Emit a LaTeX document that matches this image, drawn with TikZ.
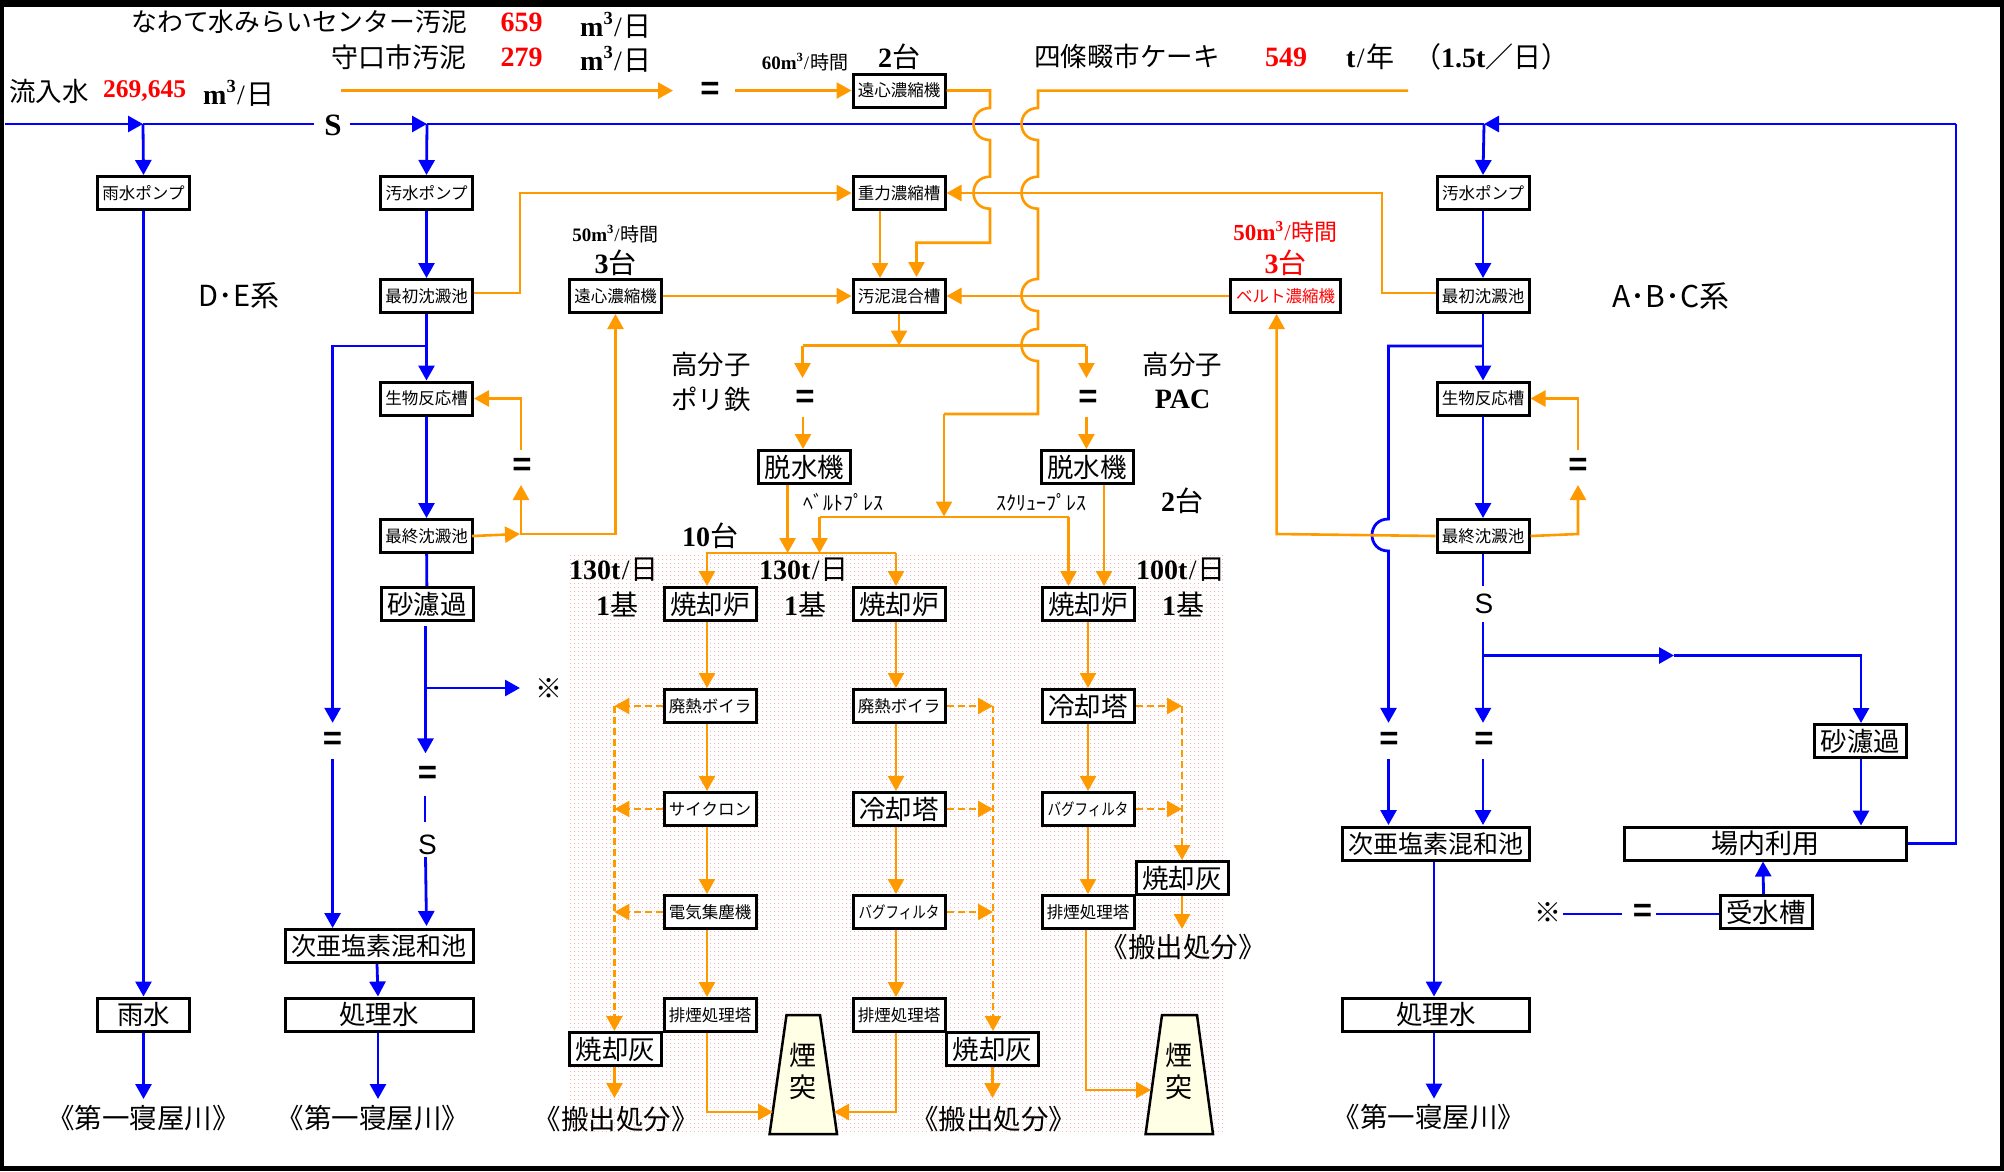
\documentclass[tikz,border=0pt]{standalone}
\usepackage{fontspec}
\usetikzlibrary{arrows.meta}
\setmainfont{Noto Sans CJK JP}
\newfontfamily\ser{Liberation Serif}
\newfontfamily\san{Liberation Sans}
\newcommand\fs[1]{\fontsize{#1pt}{#1pt}\selectfont}
\newcommand\sn[1]{{\ser\bfseries #1}}
\newcommand\slsh{{\ser\kern.05em/\kern.05em}}
\newcommand\cub{{\ser\bfseries m\raisebox{.42em}{\scalebox{.66}{3}}\mdseries\slsh}}
\newcommand\hop[2]{-- (#1,#2-16) .. controls (#1-22,#2-16) and (#1-22,#2+16) .. (#1,#2+16)}
\newcommand\eqsign{\raisebox{-3.5pt}{=}}
\definecolor{og}{HTML}{FF9900}
\definecolor{bl}{HTML}{0000FF}
\definecolor{rd}{HTML}{FF0000}
\definecolor{chim}{HTML}{FFFFE5}
\definecolor{dotc}{HTML}{FFB4B4}
\tikzset{
  box/.style={draw=black,line width=3pt,fill=white,inner sep=0pt,minimum width=92pt,minimum height=33pt,text=black,align=center},
  sm/.style={box,font=\fs{16.5}},
  lg/.style={box,font=\fs{26.5}},
  txt/.style={inner sep=0pt,text=black,font=\fs{26.5}},
  eqs/.style={inner sep=0pt,font={\san\bfseries\fs{33}},minimum height=36pt},
  sss/.style={inner sep=0pt,font={\san\fs{28}}},
  ol/.style={draw=og,line width=2.6pt,line join=miter},
  oa/.style={ol,-{Triangle[length=15pt,width=16pt]}},
  od/.style={ol,dash pattern=on 7pt off 4pt},
  oda/.style={od,-{Triangle[length=15pt,width=16pt]}},
  bll/.style={draw=bl,line width=2.8pt},
  ba/.style={bll,-{Triangle[length=15pt,width=16pt]}},
}
\begin{document}
\begin{tikzpicture}[x=1pt,y=-1pt]
\useasboundingbox (0,0) rectangle (2004,1171);
\fill[black] (0,0) rectangle (2004,1171);
\fill[white] (4,7) rectangle (2000,1166);
% dotted background
\foreach \yy in {555.5,559.5,...,1134}
  \draw[dotc,line width=1pt,dash pattern=on 1pt off 3pt] (570,\yy) -- (1226,\yy);

% ---------- nodes
\node[sm] (rp) at (143.5,193) {雨水ポンプ};
\node[sm] (pL) at (426.5,193) {汚水ポンプ};
\node[sm] (fL) at (426.5,296) {最初沈澱池};
\node[sm] (bL) at (426.5,398.5) {生物反応槽};
\node[sm] (eL) at (426.5,536) {最終沈澱池};
\node[lg] (sandL) at (427,604) {砂濾過};
\node[box,font=\fs{25},minimum width=188pt] (hypoL) at (379,946) {次亜塩素混和池};
\node[lg,minimum width=188pt] (treatL) at (379,1014.5) {処理水};
\node[lg] (rain) at (143.5,1014.5) {雨水};
\node[sm] (cen2) at (899,90.5) {遠心濃縮機};
\node[sm] (grav) at (899,193) {重力濃縮槽};
\node[sm] (mix) at (899,296) {汚泥混合槽};
\node[sm] (cen3) at (615.5,296) {遠心濃縮機};
\node[sm,minimum width=110pt,text=rd] (belt) at (1285.5,296) {ベルト濃縮機};
\node[lg] (dL) at (804.5,467) {脱水機};
\node[lg] (dR) at (1087,467) {脱水機};
\node[sm] (pR) at (1483,193) {汚水ポンプ};
\node[sm] (fR) at (1483,296) {最初沈澱池};
\node[sm] (bR) at (1483,398.5) {生物反応槽};
\node[sm] (eR) at (1483,536) {最終沈澱池};
\node[box,font=\fs{25},minimum width=187pt] (hypoR) at (1436,843.5) {次亜塩素混和池};
\node[lg,minimum width=187pt] (treatR) at (1436,1014.5) {処理水};
\node[lg] (sandR) at (1860.5,741) {砂濾過};
\node[box,font=\fs{27},minimum width=282pt] (inner) at (1765.5,843.5) {場内利用};
\node[lg] (tank) at (1766,912) {受水槽};
% furnace columns
\node[lg] (fur1) at (710,604) {焼却炉};
\node[lg] (fur2) at (899,604) {焼却炉};
\node[lg] (fur3) at (1088,604) {焼却炉};
\node[sm] (boil1) at (710,706) {廃熱ボイラ};
\node[sm] (boil2) at (899,706) {廃熱ボイラ};
\node[lg] (cool3) at (1088,706) {冷却塔};
\node[sm] (cyc1) at (710,809) {サイクロン};
\node[lg] (cool2) at (899,809) {冷却塔};
\node[sm] (bag3) at (1088,809) {\scalebox{.82}[1]{バグフィルタ}};
\node[sm] (esp1) at (710,912) {電気集塵機};
\node[sm] (bag2) at (899,912) {\scalebox{.82}[1]{バグフィルタ}};
\node[sm] (stk3) at (1088,912) {排煙処理塔};
\node[sm] (stk1) at (710,1015) {排煙処理塔};
\node[sm] (stk2) at (899,1015) {排煙処理塔};
\node[lg] (ash1) at (615.5,1049) {焼却灰};
\node[lg] (ash2) at (992.5,1049) {焼却灰};
\node[lg] (ash3) at (1182,878) {焼却灰};
% chimneys
\draw[black,line width=2.5pt,fill=chim] (786.5,1015) -- (820,1015) -- (837,1134) -- (769.6,1134) -- cycle;
\draw[black,line width=2.5pt,fill=chim] (1162,1015) -- (1197,1015) -- (1213,1134) -- (1145.6,1134) -- cycle;
\node[txt,font=\fs{27},align=center] (ch1a) at (803,1055) {煙};
\node[txt,font=\fs{27}] (ch1b) at (803,1087) {突};
\node[txt,font=\fs{27}] (ch2a) at (1179,1055) {煙};
\node[txt,font=\fs{27}] (ch2b) at (1179,1087) {突};
\coordinate (chL1) at (773,1112);
\coordinate (chR1) at (834,1112);
\coordinate (chL2) at (1151,1090);

% equals and S
\node[eqs] (eqT) at (710,90.6) {\eqsign};
\node[eqs] (eqC) at (805,398.5) {\eqsign};
\node[eqs] (eqD) at (1088,398.5) {\eqsign};
\node[eqs] (eqE) at (522,467) {\eqsign};
\node[eqs] (eqF) at (1578,467) {\eqsign};
\node[eqs] (eqA) at (332.6,741) {\eqsign};
\node[eqs,minimum height=43pt] (eqB) at (427.5,775) {\eqsign};
\node[eqs] (eqG) at (1389,741) {\eqsign};
\node[eqs] (eqH) at (1484,741) {\eqsign};
\node[eqs] (eqI) at (1642.6,912.5) {\eqsign};
\node[sss,font={\ser\bfseries\fs{31}}] (sT) at (333,125) {S};
\node[sss] (sL) at (427.5,845) {S};
\node[sss] (sR) at (1484,604) {S};
\node[txt,font=\fs{27}] (komeL) at (549,688) {※};
\node[txt,font=\fs{27}] (komeR) at (1548,912.7) {※};

% ---------- labels
\node[txt,font=\fs{25.8},anchor=east] (t1) at (467,22) {なわて水みらいセンター汚泥};
\node[txt,font=\fs{27},anchor=east] (t2) at (467,57) {守口市汚泥};
\node[txt,text=rd,font={\fs{28}}] (t1n) at (521.7,22.5) {\sn{659}};
\node[txt,text=rd,font={\fs{28}}] (t2n) at (521.7,57.5) {\sn{279}};
\node[txt,font=\fs{28},anchor=west] (t1u) at (580,25) {\cub 日};
\node[txt,font=\fs{28},anchor=west] (t2u) at (580,59) {\cub 日};
\node[txt,anchor=west] (in1) at (9,91) {流入水};
\node[txt,text=rd,font=\fs{25.5},anchor=west] (in2) at (103,91) {\sn{269,645}};
\node[txt,font=\fs{28},anchor=west] (in3) at (203,93) {\cub 日};
\node[txt,font=\fs{19}] (r60) at (805,62) {\sn{60}\cub 時間};
\node[txt,font=\fs{28}] (n2a) at (899,57) {\sn{2}台};
\node[txt,anchor=west] (s1) at (1034,56.6) {四條畷市ケーキ};
\node[txt,text=rd,font=\fs{28}] (s2) at (1286,57) {\sn{549}};
\node[txt,font=\fs{28},anchor=west] (s3) at (1346,56.6) {\sn{t}\slsh 年};
\node[txt,font=\fs{28},anchor=west] (s4) at (1413,56.6) {（\sn{1.5t}／日）};
\node[txt,font=\fs{19}] (r50) at (615.5,234) {\sn{50}\cub 時間};
\node[txt,font=\fs{28}] (n3a) at (615.5,263) {\sn{3}台};
\node[txt,font=\fs{23},text=rd] (r50r) at (1285.6,232) {\sn{50}\cub 時間};
\node[txt,font=\fs{28},text=rd] (n3b) at (1285.5,262.6) {\sn{3}台};
\node[txt,font=\fs{29}] (de) at (239,296) {D･E系};
\node[txt,font=\fs{30}] (abc) at (1671,296) {A･B･C系};
\node[txt] (poly) at (711,364) {高分子};
\node[txt] (fe) at (711,399) {ポリ鉄};
\node[txt] (poly2) at (1182.5,364) {高分子};
\node[txt,font=\fs{28}] (pac) at (1182.5,399) {\sn{PAC}};
\node[txt,font=\fs{28}] (n2b) at (1182,501) {\sn{2}台};
\node[txt,font=\fs{20}] (bp) at (843,502) {ﾍﾞﾙﾄﾌﾟﾚｽ};
\node[txt,font=\fs{20}] (sp) at (1041.5,502) {ｽｸﾘｭｰﾌﾟﾚｽ};
\node[txt,font=\fs{28}] (n10) at (710,536) {\sn{10}台};
\node[txt,font=\fs{28}] (c1) at (614,570) {\sn{130t}\slsh 日};
\node[txt,font=\fs{28}] (c2) at (804,570) {\sn{130t}\slsh 日};
\node[txt,font=\fs{28}] (c3) at (1181,570) {\sn{100t}\slsh 日};
\node[txt,font=\fs{28}] (k1) at (617,604) {\sn{1}基};
\node[txt,font=\fs{28}] (k2) at (805,604) {\sn{1}基};
\node[txt,font=\fs{28}] (k3) at (1183,604) {\sn{1}基};
\node[txt,font=\fs{27.5}] (o1) at (616,1119) {《搬出処分》};
\node[txt,font=\fs{27.5}] (o2) at (993.6,1119) {《搬出処分》};
\node[txt,font=\fs{27.5}] (o3) at (1183,947) {《搬出処分》};
\node[txt,font=\fs{27.5}] (ri1) at (143.5,1118) {《第一寝屋川》};
\node[txt,font=\fs{27.5}] (ri2) at (373,1118) {《第一寝屋川》};
\node[txt,font=\fs{27.5}] (ri3) at (1429,1117) {《第一寝屋川》};

% ---------- blue connectors
\coordinate (in0) at (5,124);
\coordinate (j1) at (143,124);
\coordinate (j2) at (427,124);
\coordinate (jR) at (1484,124);
\coordinate (rr) at (1956,124);
\draw[ba] (in0) -- (j1);
\draw[bll] (j1) -- (314,124);
\draw[ba] (350,124) -- (j2);
\draw[bll] (j2) -- (jR);
\draw[ba] (rr) -- (jR);
\draw[ba] (j1) -- (rp.north);
\draw[ba] (j2) -- (pL.north);
\draw[ba] (jR) -- (pR.north);
\draw[ba] (rp.south) -- (rain.north);
\draw[ba] (rain.south) -- (143.5,1099);
\draw[ba] (pL) -- (fL);
\draw[ba] (fL) -- (bL);
\draw[ba] (bL) -- (eL);
\draw[bll] (eL) -- (sandL);
\coordinate (jL) at (426.5,346);
\draw[ba] (jL) -- (332.6,346) -- (eqA.north);
\draw[ba] (eqA.south) -- (eqA.south |- hypoL.north);
\coordinate (s1) at (425.5,626);
\draw[ba] (s1) -- (eqB.north -| s1);
\draw[ba] (425.5,688) -- (520,688);
\draw[bll] (425,796) -- (425,822);
\draw[ba] (425.5,857) -- (426.5,926);
\draw[ba] ([xshift=-2pt]hypoL.south) -- ([xshift=-1pt]treatL.north);
\draw[ba] ([xshift=-1pt]treatL.south) -- (378,1099);
% right side blue
\draw[ba] (pR) -- (fR);
\draw[ba] (fR) -- (bR);
\draw[ba] (bR) -- (eR);
\draw[bll] (eR.south) -- (1483,586);
\coordinate (jRb) at (1483,346);
\draw[ba] (jRb) -- (1388.5,346) \hop{1388.5}{535} -- (eqG.north -| 1388.5,0);
\draw[ba] (1483,622) -- (eqH.north -| 1483,0);
\draw[ba] (eqG.south -| 1388.5,0) -- (1388.5,825);
\draw[ba] (eqH.south -| 1483,0) -- (1483,825);
\draw[ba] (1483,655.5) -- (1674,655.5);
\draw[ba] (1674,655.5) -- (1861,655.5) -- (sandR.north -| 1861,0);
\draw[ba] (sandR.south -| 1861,0) -- (inner.north -| 1861,0);
\draw[ba] ([xshift=-2.5pt]tank.north) -- ([xshift=-2.5pt,yshift=-18pt]inner.center);
\draw[bll] (inner.east) -- (1956,843.5) -- (rr);
\draw[bll] (tank.west |- 0,914) -- (1656,914);
\draw[bll] (1622,914) -- (1563,914);
\draw[ba] ([xshift=-2pt]hypoR.south) -- ([xshift=-2pt]treatR.north);
\draw[ba] ([xshift=-2pt]treatR.south) -- (1434,1098.6);

% ---------- orange connectors
\draw[oa] (341,90.6) -- (673,90.6);
\draw[oa] (735,90.5) -- (cen2.west);
\draw[oa] (cen2.east) -- (990,90.5) \hop{990}{124} \hop{990}{192.7} -- (990,242.7) -- (916.5,242.7) -- (916.5,277);
\draw[ol] (1408,90.6) -- (1038,90.6) \hop{1038}{124} \hop{1038}{192.7} \hop{1038}{295} \hop{1038}{345} -- (1038,414) -- (944,414);
\draw[oa] (944,414) -- (944,516.5);
\draw[oa] ([yshift=3pt]fL.east) -- (520,293) -- (520,193) -- (grav.west);
\draw[oa] ([yshift=3pt]fR.west) -- (1382,293) -- (1382,193) -- (grav.east);
\draw[oa] ([xshift=-19pt]grav.south) -- ([xshift=-19pt]mix.north);
\draw[oa] (cen3) -- (mix);
\draw[oa] (belt) -- (mix);
\coordinate (mj) at (899,345.5);
\draw[oa] (mix.south) -- (mj);
\draw[ol] (802.5,345.5) -- (1086.4,345.5);
\draw[oa] (802.5,345.5) -- (802.5,378);
\draw[oa] (1086.4,345.5) -- (1086.4,378);
\draw[oa] (803,416.5) -- (803,449);
\draw[oa] (1086.4,416.5) -- (1086.4,449);
\draw[oa] ([xshift=-2pt]eL.east) -- (520,534);
\draw[oa] (520,534) -- (615.5,534) -- (cen3.south);
\draw[oa] (521,534) -- (521,485);
\draw[oa] (521,449.5) -- (521,398.5) -- (bL.east);
\draw[oa] (eR.east) -- (1578,534) -- (1578,485);
\draw[oa] (1578,449.5) -- (1578,398.5) -- (bR.east);
\draw[oa] (eR.west) -- (1276.6,534) -- (1276.6,314);
\draw[ol] (819.5,517) -- (1068.5,517);
\draw[oa] (819.5,517) -- (819.5,553);
\draw[oa] (1068.5,517) -- (1068.5,586);
\draw[oa] (787.6,485) -- (787.6,553);
\draw[oa] (1104,485) -- (1104,586);
\draw[oa] (707,553) -- (707,586);
\draw[ol] (705.7,553) -- (896,553);
\draw[oa] (896,553) -- (896,586);
% furnace trains
\foreach \aa/\bb in {fur1/boil1,boil1/cyc1,cyc1/esp1,esp1/stk1}
  \draw[oa] ([xshift=-3pt]\aa.south) -- ([xshift=-3pt]\bb.north);
\foreach \aa/\bb in {fur2/boil2,boil2/cool2,cool2/bag2,bag2/stk2}
  \draw[oa] ([xshift=-3pt]\aa.south) -- ([xshift=-3pt]\bb.north);
\foreach \aa/\bb in {fur3/cool3,cool3/bag3,bag3/stk3}
  \draw[oa] (\aa.south) -- (\bb.north);
\foreach \aa in {boil1,cyc1,esp1}
  \draw[oda] (\aa.west) -- (\aa.west -| 614.4,0);
\foreach \aa in {boil2,cool2,bag2}
  \draw[oda] (\aa.east) -- (\aa.east -| 993,0);
\foreach \aa in {cool3,bag3}
  \draw[oda] (\aa.east) -- (\aa.east -| 1182,0);
\draw[oda] (614.4,706) -- (614.4,1031);
\draw[oda] (993,706) -- (993,1031);
\draw[oda] (1182,706) -- (ash3.north);
\draw[oa] ([xshift=-1pt]ash1.south) -- (614.4,1098);
\draw[oa] (ash2.south) -- (992.5,1098);
\draw[oa] (ash3.south) -- (1182,929);
\draw[oa] ([xshift=-3pt]stk1.south) -- (707,1112) -- (chL1);
\draw[oa] ([xshift=-3pt]stk2.south) -- (896,1112) -- (chR1);
\draw[oa] ([xshift=-2pt]stk3.south) -- (1086,1090) -- (chL2);
\end{tikzpicture}
\end{document}
